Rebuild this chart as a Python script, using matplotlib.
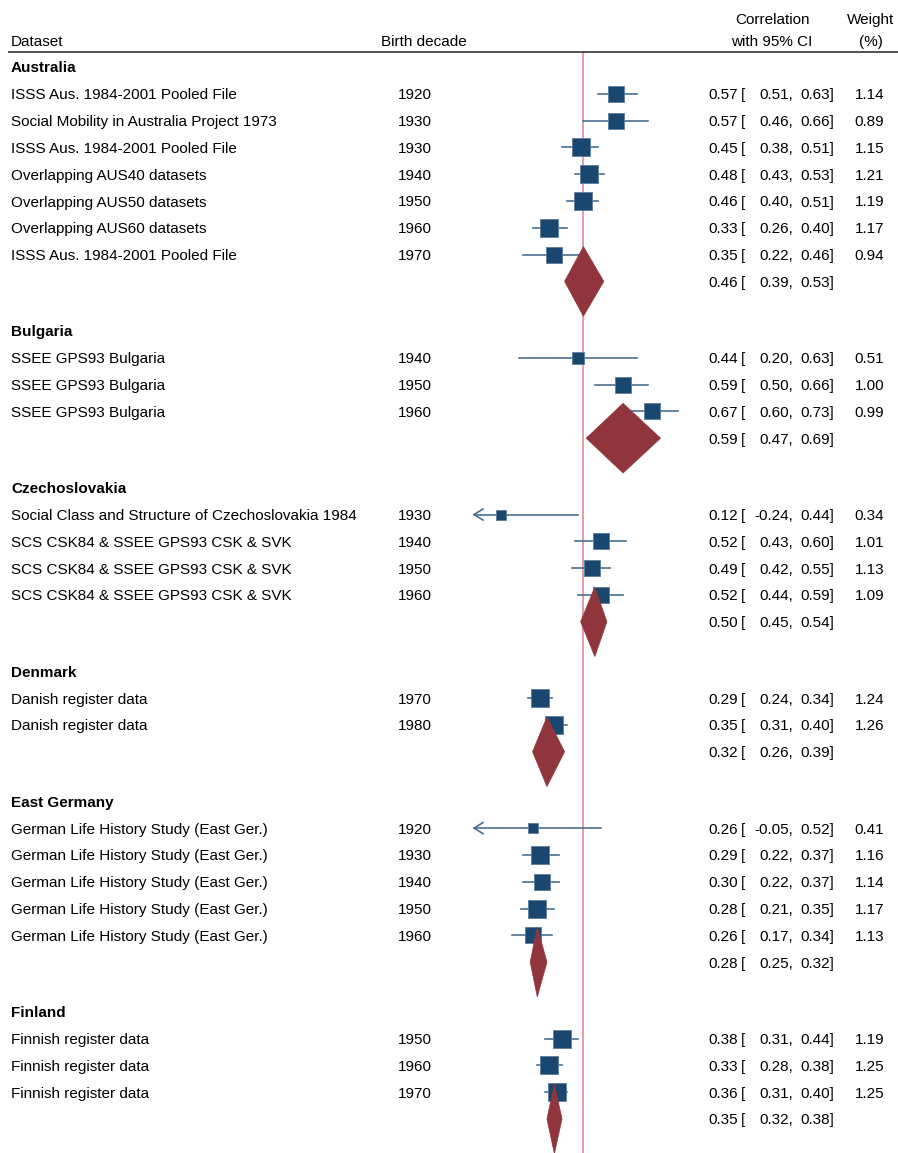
"""
Forest plot of intergenerational correlations by country and birth decade.
Estimates are drawn on the Fisher-z scale, labels show correlations.
"""

import matplotlib
matplotlib.use("Agg")
import matplotlib.pyplot as plt
import matplotlib.transforms as mtransforms
from matplotlib.patches import Polygon
import numpy as np

plt.rcParams["font.family"] = ["Liberation Sans", "DejaVu Sans"]
plt.rcParams["font.size"] = 11

# ---- data -------------------------------------------------------------
groups = ["Australia", "Bulgaria", "Czechoslovakia", "Denmark",
          "East Germany", "Finland"]

study_group = [0, 0, 0, 0, 0, 0, 0,
               1, 1, 1,
               2, 2, 2, 2,
               3, 3,
               4, 4, 4, 4, 4,
               5, 5, 5]
study_names = [
    "ISSS Aus. 1984-2001 Pooled File",
    "Social Mobility in Australia Project 1973",
    "ISSS Aus. 1984-2001 Pooled File",
    "Overlapping AUS40 datasets",
    "Overlapping AUS50 datasets",
    "Overlapping AUS60 datasets",
    "ISSS Aus. 1984-2001 Pooled File",
    "SSEE GPS93 Bulgaria",
    "SSEE GPS93 Bulgaria",
    "SSEE GPS93 Bulgaria",
    "Social Class and Structure of Czechoslovakia 1984",
    "SCS CSK84 & SSEE GPS93 CSK & SVK",
    "SCS CSK84 & SSEE GPS93 CSK & SVK",
    "SCS CSK84 & SSEE GPS93 CSK & SVK",
    "Danish register data",
    "Danish register data",
    "German Life History Study (East Ger.)",
    "German Life History Study (East Ger.)",
    "German Life History Study (East Ger.)",
    "German Life History Study (East Ger.)",
    "German Life History Study (East Ger.)",
    "Finnish register data",
    "Finnish register data",
    "Finnish register data",
]
decades = [1920, 1930, 1930, 1940, 1950, 1960, 1970,
           1940, 1950, 1960,
           1930, 1940, 1950, 1960,
           1970, 1980,
           1920, 1930, 1940, 1950, 1960,
           1950, 1960, 1970]
corr = [0.57, 0.57, 0.45, 0.48, 0.46, 0.33, 0.35,
        0.44, 0.59, 0.67,
        0.12, 0.52, 0.49, 0.52,
        0.29, 0.35,
        0.26, 0.29, 0.30, 0.28, 0.26,
        0.38, 0.33, 0.36]
ci_low = [0.51, 0.46, 0.38, 0.43, 0.40, 0.26, 0.22,
          0.20, 0.50, 0.60,
          -0.24, 0.43, 0.42, 0.44,
          0.24, 0.31,
          -0.05, 0.22, 0.22, 0.21, 0.17,
          0.31, 0.28, 0.31]
ci_high = [0.63, 0.66, 0.51, 0.53, 0.51, 0.40, 0.46,
           0.63, 0.66, 0.73,
           0.44, 0.60, 0.55, 0.59,
           0.34, 0.40,
           0.52, 0.37, 0.37, 0.35, 0.34,
           0.44, 0.38, 0.40]
weights = [1.14, 0.89, 1.15, 1.21, 1.19, 1.17, 0.94,
           0.51, 1.00, 0.99,
           0.34, 1.01, 1.13, 1.09,
           1.24, 1.26,
           0.41, 1.16, 1.14, 1.17, 1.13,
           1.19, 1.25, 1.25]

pooled_corr = [0.46, 0.59, 0.50, 0.32, 0.28, 0.35]
pooled_low = [0.39, 0.47, 0.45, 0.26, 0.25, 0.32]
pooled_high = [0.53, 0.69, 0.54, 0.39, 0.32, 0.38]

overall_corr = 0.46

# ---- style ------------------------------------------------------------
NAVY = "#1a476f"
CI_COLOR = "#4a6f93"
MAROON = "#90353b"
REFLINE = "#dc8095"

W, H, DPI = 898, 1153, 100
ROW_PX = 26.8          # row height in pixels
TOP_PX = 67            # first group header
Z0_PX = 474            # pixel of z = 0 (left edge of plot region)
Z_PX = 220             # pixels per unit of Fisher z
GROUP_GAP = 1.85       # rows between a pooled line and the next header

fig = plt.figure(figsize=(W / DPI, H / DPI), dpi=DPI)
ax = fig.add_axes([0, 0, 1, 1])
ax.set_xlim(-Z0_PX / Z_PX, (W - Z0_PX) / Z_PX)
ax.set_ylim((H - TOP_PX) / ROW_PX, -TOP_PX / ROW_PX)
ax.axis("off")

# x in figure pixels, y in data rows
px = mtransforms.blended_transform_factory(
    mtransforms.Affine2D().scale(1 / W, 1) + fig.transFigure, ax.transData)

z = np.arctanh(np.array(corr))
z_lo = np.arctanh(np.array(ci_low))
z_hi = np.arctanh(np.array(ci_high))
z_min = 0.0

TXT = dict(transform=px, va="center_baseline")


def stat_text(y, r, lo, hi, w=None):
    ax.text(738, y, f"{r:.2f}", ha="right", **TXT)
    ax.text(741, y, "[", ha="left", **TXT)
    ax.text(793, y, f"{lo:.2f},", ha="right", **TXT)
    ax.text(834, y, f"{hi:.2f}]", ha="right", **TXT)
    if w is not None:
        ax.text(884, y, f"{w:.2f}", ha="right", **TXT)


# header
ax.text(11, -1, "Dataset", **TXT)
ax.text(381, -1, "Birth decade", **TXT)
ax.text(772, -1.8, "Correlation", ha="center", **TXT)
ax.text(772, -1, "with 95% CI", ha="center", **TXT)
ax.text(871, -1.8, "Weight", ha="center", **TXT)
ax.text(871, -1, "(%)", ha="center", **TXT)
ax.plot([8, W], [-0.56, -0.56], transform=px, color="#444444", lw=1.3,
        solid_capstyle="butt")

# reference line at the overall estimate
ax.plot([np.arctanh(overall_corr)] * 2, [-0.56, ax.get_ylim()[0]],
        color=REFLINE, lw=1.1, zorder=1)

row = 0.0
for g, name in enumerate(groups):
    ax.text(11, row, name, fontweight="bold", **TXT)
    idx = [i for i, sg in enumerate(study_group) if sg == g]
    for i in idx:
        row += 1
        ax.text(11, row, study_names[i], **TXT)
        ax.text(398, row, str(decades[i]), **TXT)
        stat_text(row, corr[i], ci_low[i], ci_high[i], weights[i])

        lo = max(z_lo[i], z_min)
        ax.plot([lo, z_hi[i]], [row, row], color=CI_COLOR, lw=1.2, zorder=2)
        if z_lo[i] < z_min:
            # open arrow head for truncated intervals
            dx, dy = 9 / Z_PX, 5.5 / ROW_PX
            ax.plot([z_min + dx, z_min, z_min + dx],
                    [row - dy, row, row + dy], color=CI_COLOR, lw=1.2,
                    zorder=2)
        side_pt = 15.9 * np.sqrt(weights[i]) * 72 / DPI
        ax.scatter([z[i]], [row], s=side_pt ** 2, marker="s", color=NAVY,
                   edgecolors="#5b7d9c", linewidths=0.6, zorder=3)

    row += 1
    stat_text(row, pooled_corr[g], pooled_low[g], pooled_high[g])
    zc = np.arctanh(pooled_corr[g])
    zl = np.arctanh(pooled_low[g])
    zh = np.arctanh(pooled_high[g])
    half = 1.3
    ax.add_patch(Polygon([[zl, row], [zc, row - half], [zh, row],
                          [zc, row + half]], closed=True,
                         facecolor=MAROON, edgecolor=MAROON, lw=0.5,
                         zorder=4))
    row += GROUP_GAP

fig.savefig("out.png", dpi=DPI, facecolor="white")
plt.close(fig)
